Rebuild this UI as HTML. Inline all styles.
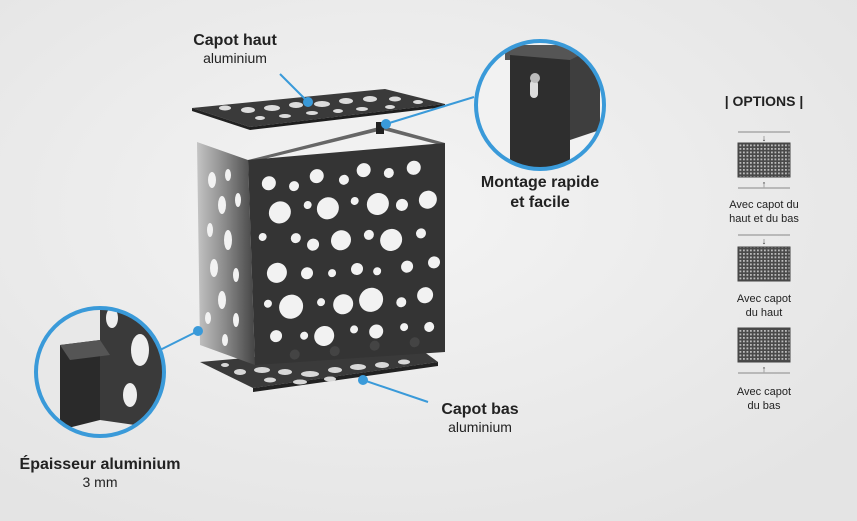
<!DOCTYPE html>
<html><head><meta charset="utf-8"><style>
html,body{margin:0;padding:0;width:857px;height:521px;overflow:hidden;background:#ebebeb;}
text{font-family:"Liberation Sans",Arial,sans-serif;}
</style></head><body>
<svg width="857" height="521" viewBox="0 0 857 521" xmlns="http://www.w3.org/2000/svg">
<defs>
<radialGradient id="bg" cx="45%" cy="40%" r="70%"><stop offset="0" stop-color="#f4f4f4"/><stop offset="1" stop-color="#e4e4e4"/></radialGradient>
<linearGradient id="side" x1="0" y1="0" x2="1" y2="0"><stop offset="0" stop-color="#c4c4c4"/><stop offset="0.5" stop-color="#888"/><stop offset="1" stop-color="#444"/></linearGradient>
<clipPath id="cr"><circle cx="540" cy="105" r="63"/></clipPath>
<clipPath id="cl"><circle cx="100" cy="372" r="63"/></clipPath>
</defs>
<rect width="857" height="521" fill="url(#bg)"/>

<polygon points="200,362 253,388 438,362 412,343" fill="#3a3a3a"/>
<polygon points="253,388 438,362 438,366 253,392" fill="#222"/>
<g fill="#d8d8d8">
<ellipse cx="240" cy="372" rx="6" ry="3"/><ellipse cx="262" cy="370" rx="8" ry="3"/><ellipse cx="285" cy="372" rx="7" ry="3"/><ellipse cx="310" cy="374" rx="9" ry="3"/><ellipse cx="335" cy="370" rx="7" ry="3"/><ellipse cx="358" cy="367" rx="8" ry="3"/><ellipse cx="382" cy="365" rx="7" ry="3"/><ellipse cx="404" cy="362" rx="6" ry="2.5"/>
<ellipse cx="270" cy="380" rx="6" ry="2.5"/><ellipse cx="300" cy="382" rx="7" ry="2.5"/><ellipse cx="330" cy="379" rx="6" ry="2.5"/><ellipse cx="225" cy="365" rx="4" ry="2"/>
</g>

<polygon points="192,108 250,127 445,104 385,89" fill="#3a3a3a"/>
<polygon points="192,108 250,127 250,130 192,111" fill="#222"/>
<polygon points="250,127 445,104 445,107 250,130" fill="#1e1e1e"/>
<g fill="#dcdcdc">
<ellipse cx="225" cy="108" rx="6" ry="2.5"/><ellipse cx="248" cy="110" rx="7" ry="3"/><ellipse cx="272" cy="108" rx="8" ry="3"/><ellipse cx="296" cy="105" rx="7" ry="3"/><ellipse cx="322" cy="104" rx="8" ry="3"/><ellipse cx="346" cy="101" rx="7" ry="3"/><ellipse cx="370" cy="99" rx="7" ry="3"/><ellipse cx="395" cy="99" rx="6" ry="2.5"/><ellipse cx="418" cy="102" rx="5" ry="2"/>
<ellipse cx="260" cy="118" rx="5" ry="2"/><ellipse cx="285" cy="116" rx="6" ry="2"/><ellipse cx="312" cy="113" rx="6" ry="2"/><ellipse cx="338" cy="111" rx="5" ry="2"/><ellipse cx="362" cy="109" rx="6" ry="2"/><ellipse cx="390" cy="107" rx="5" ry="2"/>
</g>

<polygon points="248,160 383,126 445,143 440,145 383,130 252,162" fill="#666"/>
<rect x="376" y="122" width="8" height="12" fill="#222"/>
<polygon points="197,142 248,160 255,365 200,345" fill="url(#side)"/>
<g fill="#f2f2f2">
<ellipse cx="212" cy="180" rx="4" ry="8"/><ellipse cx="228" cy="175" rx="3" ry="6"/><ellipse cx="222" cy="205" rx="4" ry="9"/><ellipse cx="238" cy="200" rx="3" ry="7"/><ellipse cx="210" cy="230" rx="3" ry="7"/><ellipse cx="228" cy="240" rx="4" ry="10"/><ellipse cx="214" cy="268" rx="4" ry="9"/><ellipse cx="236" cy="275" rx="3" ry="7"/><ellipse cx="222" cy="300" rx="4" ry="9"/><ellipse cx="208" cy="318" rx="3" ry="6"/><ellipse cx="236" cy="320" rx="3" ry="7"/><ellipse cx="225" cy="340" rx="3" ry="6"/>
</g>
<polygon points="248,160 445,143 445,352 255,365" fill="#343434"/>
<g transform="matrix(1,-0.086,0.034,1,248,160)" fill="#f2f2f2">
<circle cx="20" cy="25" r="7"/><circle cx="45" cy="30" r="5"/><circle cx="68" cy="22" r="7"/><circle cx="95" cy="28" r="5"/><circle cx="115" cy="20" r="7"/><circle cx="140" cy="25" r="5"/><circle cx="165" cy="22" r="7"/>
<circle cx="30" cy="55" r="11"/><circle cx="58" cy="50" r="4"/><circle cx="78" cy="55" r="11"/><circle cx="105" cy="50" r="4"/><circle cx="128" cy="55" r="11"/><circle cx="152" cy="58" r="6"/><circle cx="178" cy="55" r="9"/>
<circle cx="12" cy="78" r="4"/><circle cx="45" cy="82" r="5"/><circle cx="62" cy="90" r="6"/><circle cx="90" cy="88" r="10"/><circle cx="118" cy="85" r="5"/><circle cx="140" cy="92" r="11"/><circle cx="170" cy="88" r="5"/>
<circle cx="25" cy="115" r="10"/><circle cx="55" cy="118" r="6"/><circle cx="80" cy="120" r="4"/><circle cx="105" cy="118" r="6"/><circle cx="125" cy="122" r="4"/><circle cx="155" cy="120" r="6"/><circle cx="182" cy="118" r="6"/>
<circle cx="15" cy="145" r="4"/><circle cx="38" cy="150" r="12"/><circle cx="68" cy="148" r="4"/><circle cx="90" cy="152" r="10"/><circle cx="118" cy="150" r="12"/><circle cx="148" cy="155" r="5"/><circle cx="172" cy="150" r="8"/>
<circle cx="22" cy="178" r="6"/><circle cx="50" cy="180" r="4"/><circle cx="70" cy="182" r="10"/><circle cx="100" cy="178" r="4"/><circle cx="122" cy="182" r="7"/><circle cx="150" cy="180" r="4"/><circle cx="175" cy="182" r="5"/>
</g>
<g fill="#444" transform="matrix(1,-0.086,0.034,1,248,160)">
<circle cx="40" cy="198" r="5"/><circle cx="80" cy="198" r="5"/><circle cx="120" cy="196" r="5"/><circle cx="160" cy="196" r="5"/>
</g>

<g stroke="#3a9ad9" stroke-width="2" fill="#3a9ad9">
<line x1="280" y1="74" x2="308" y2="102"/><circle cx="308" cy="102" r="4"/>
<line x1="386" y1="124" x2="474" y2="97"/><circle cx="386" cy="124" r="4"/>
<line x1="198" y1="331" x2="160" y2="350"/><circle cx="198" cy="331" r="4"/>
<line x1="363" y1="380" x2="428" y2="402"/><circle cx="363" cy="380" r="4"/>
</g>

<g clip-path="url(#cr)">
<rect x="470" y="35" width="140" height="140" fill="#f2f2f2"/>
<polygon points="505,45 600,45 600,60 505,60" fill="#555"/>
<polygon points="510,55 570,60 570,175 510,175" fill="#2e2e2e"/>
<polygon points="570,60 600,45 600,130 570,140" fill="#3e3e3e"/>
<rect x="530" y="80" width="8" height="18" rx="4" fill="#ddd"/>
<circle cx="535" cy="78" r="5" fill="#bbb"/>
</g>
<circle cx="540" cy="105" r="64" fill="none" stroke="#3a9ad9" stroke-width="4"/>

<g clip-path="url(#cl)">
<rect x="30" y="300" width="140" height="140" fill="#e8e8e8"/>
<polygon points="60,345 100,340 100,420 60,430" fill="#2a2a2a"/>
<polygon points="100,310 170,310 170,430 100,420" fill="#3a3a3a"/>
<polygon points="60,345 100,340 110,355 70,360" fill="#555"/>
<ellipse cx="140" cy="350" rx="9" ry="16" fill="#eee"/>
<ellipse cx="130" cy="395" rx="7" ry="12" fill="#eee"/>
<ellipse cx="112" cy="318" rx="6" ry="10" fill="#eee"/>
</g>
<circle cx="100" cy="372" r="64" fill="none" stroke="#3a9ad9" stroke-width="4"/>

<g fill="#222" text-anchor="middle">
<text x="235" y="45" font-size="16" font-weight="bold">Capot haut</text>
<text x="235" y="63" font-size="14">aluminium</text>
<text x="540" y="187" font-size="16" font-weight="bold">Montage rapide</text>
<text x="540" y="207" font-size="16" font-weight="bold">et facile</text>
<text x="480" y="414" font-size="16" font-weight="bold">Capot bas</text>
<text x="480" y="432" font-size="14">aluminium</text>
<text x="100" y="469" font-size="16" font-weight="bold">Épaisseur aluminium</text>
<text x="100" y="487" font-size="14">3 mm</text>
<text x="764" y="106" font-size="14" font-weight="bold">| OPTIONS |</text>
<text x="764" y="208" font-size="11">Avec capot du</text>
<text x="764" y="222" font-size="11">haut et du bas</text>
<text x="764" y="302" font-size="11">Avec capot</text>
<text x="764" y="316" font-size="11">du haut</text>
<text x="764" y="395" font-size="11">Avec capot</text>
<text x="764" y="409" font-size="11">du bas</text>
</g>

<defs>
<pattern id="grid" width="3.5" height="3.5" patternUnits="userSpaceOnUse"><rect width="3.5" height="3.5" fill="#4a4a4a"/><rect x="1" y="1" width="1.8" height="1.8" fill="#bbb"/></pattern>
</defs>
<g stroke="#888" stroke-width="1">
<line x1="738" y1="132" x2="790" y2="132"/><line x1="738" y1="188" x2="790" y2="188"/>
<line x1="738" y1="235" x2="790" y2="235"/><line x1="738" y1="373" x2="790" y2="373"/>
</g>
<rect x="738" y="143" width="52" height="34" fill="url(#grid)" stroke="#444"/>
<rect x="738" y="247" width="52" height="34" fill="url(#grid)" stroke="#444"/>
<rect x="738" y="328" width="52" height="34" fill="url(#grid)" stroke="#444"/>
<g fill="#333" font-size="9" text-anchor="middle">
<text x="764" y="141">↓</text><text x="764" y="187">↑</text>
<text x="764" y="244">↓</text><text x="764" y="372">↑</text>
</g>
</svg>
</body></html>
